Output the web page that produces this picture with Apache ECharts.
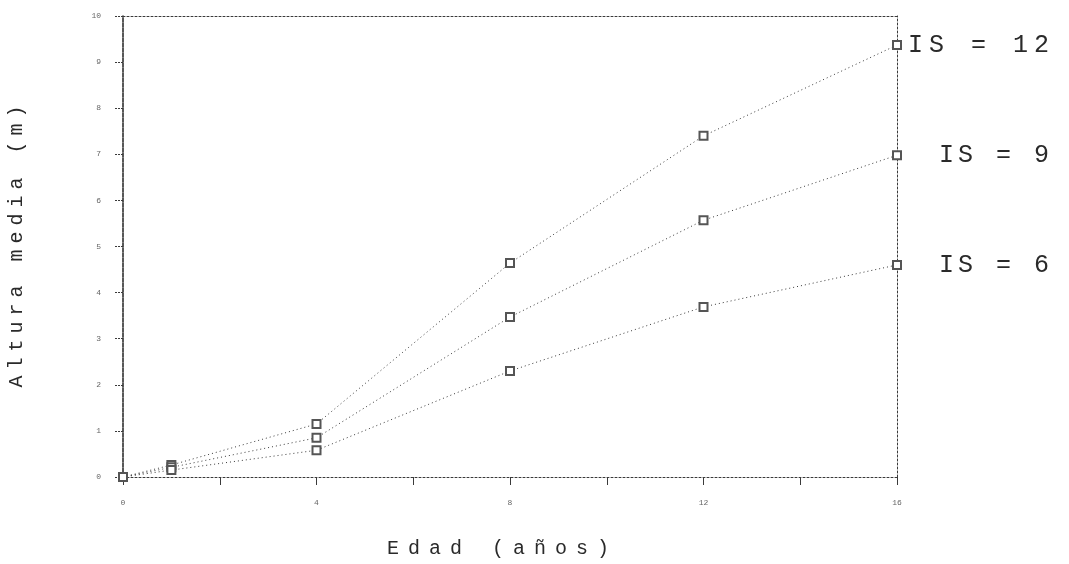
<!DOCTYPE html>
<html>
<head>
<meta charset="utf-8">
<script src="https://cdn.jsdelivr.net/npm/echarts@6/dist/echarts.min.js"></script>
<style>html,body{margin:0;padding:0;background:#fff;}#c{width:1069px;height:564px;}</style>
</head>
<body>
<div id="c"></div>
<script>
const ages = [0, 1, 4, 8, 12, 16];
const is12 = [0, 0.26, 1.15, 4.64, 7.40, 9.37];
const is9  = [0, 0.21, 0.85, 3.47, 5.57, 6.98];
const is6  = [0, 0.15, 0.58, 2.30, 3.69, 4.60];
const seriesNames = ['IS = 12', 'IS = 9', 'IS = 6'];
const xTicks = [0, 4, 8, 12, 16];
const yTicks = [0, 1, 2, 3, 4, 5, 6, 7, 8, 9, 10];

function spaced(s, key) {
  return s.split('').map(ch => '{' + key + '|' + (ch === ' ' ? '\u00a0' : ch) + '}').join('');
}
const mono = '"Liberation Mono", "DejaVu Sans Mono", monospace';
const ink = '#3a3a3a';

const chart = echarts.init(document.getElementById('c'));
function mk(name, vals, offX, w) {
  return {
    name: name,
    type: 'line',
    data: ages.map((a, i) => [a, vals[i]]),
    symbol: 'emptyRect',
    symbolSize: 8,
    itemStyle: { color: '#555', borderColor: '#555', borderWidth: 1 },
    lineStyle: { color: ink, width: 1, type: [1, 3] },
    endLabel: {
      show: true,
      formatter: () => spaced(name, 'c'),
      offset: [offX, 0],
      rich: { c: { width: w, align: 'center', fontFamily: mono, fontSize: 25, color: '#2a2a2a' } }
    },
    animation: false
  };
}
chart.setOption({
  backgroundColor: '#fff',
  animation: false,
  grid: { left: 123, right: 172, top: 16, bottom: 87, outerBoundsMode: 'none', containLabel: false },
  xAxis: [{
    type: 'value', min: 0, max: 16, interval: 2,
    axisLine: { show: true, onZero: false, lineStyle: { color: ink, width: 1, type: [2, 2] } },
    axisTick: { show: true, inside: false, length: 8, lineStyle: { color: ink } },
    axisLabel: {
      margin: 22, fontSize: 8, color: '#666', fontFamily: mono,
      formatter: v => xTicks.indexOf(v) >= 0 ? String(v) : ''
    },
    splitLine: { show: false },
    name: spaced('Edad (años)', 'n'),
    nameLocation: 'middle', nameGap: 62,
    nameTextStyle: { padding: [0, 24, 0, 0], rich: { n: { width: 21, align: 'center', fontFamily: mono, fontSize: 20, color: '#2a2a2a' } } }
  }, {
    type: 'value', position: 'top', min: 0, max: 16,
    axisLine: { show: true, onZero: false, lineStyle: { color: ink, width: 1, type: [2, 2] } },
    axisTick: { show: false }, axisLabel: { show: false }, splitLine: { show: false }
  }],
  yAxis: [{
    type: 'value', min: 0, max: 10, interval: 1,
    axisLine: { show: true, onZero: false, lineStyle: { color: '#222', width: 1.5, type: [4, 1] } },
    axisTick: { show: true, inside: false, length: 9, lineStyle: { color: ink, type: [2, 1] } },
    axisLabel: {
      margin: 22, fontSize: 8, color: '#666', fontFamily: mono,
      formatter: v => yTicks.indexOf(v) >= 0 ? String(v) : ''
    },
    splitLine: { show: false },
    name: spaced('Altura media (m)', 'n'),
    nameLocation: 'middle', nameGap: 96, nameRotate: 90,
    nameTextStyle: { rich: { n: { width: 18, align: 'center', fontFamily: mono, fontSize: 20, color: '#2a2a2a' } } }
  }, {
    type: 'value', position: 'right', min: 0, max: 10,
    axisLine: { show: true, onZero: false, lineStyle: { color: ink, width: 1, type: [2, 2] } },
    axisTick: { show: false }, axisLabel: { show: false }, splitLine: { show: false }
  }],
  series: [
    mk(seriesNames[0], is12, 0, 21),
    mk(seriesNames[1], is9, 32, 19),
    mk(seriesNames[2], is6, 32, 19)
  ]
});
</script>
</body>
</html>
